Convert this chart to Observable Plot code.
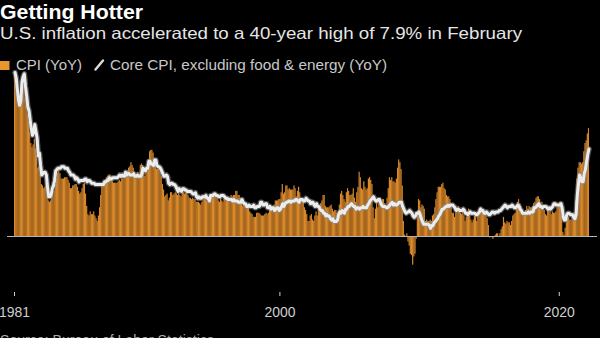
<!DOCTYPE html>
<html><head><meta charset="utf-8">
<script src="https://cdn.jsdelivr.net/npm/d3@7"></script>
<script src="https://cdn.jsdelivr.net/npm/@observablehq/plot@0.6"></script>
<style>
body{margin:0;background:#000;}
#wrap{position:relative;width:600px;height:338px;overflow:hidden;background:#000;font-family:"Liberation Sans",Arial,sans-serif;}
#chart{position:absolute;left:0;top:60px;}
#head{position:absolute;left:0;top:0;pointer-events:none;}
</style></head><body>
<div id="wrap">
 <div id="chart"></div>
 <svg id="head" width="600" height="338" font-family="'Liberation Sans',Arial,sans-serif">
  <text x="0" y="18.5" font-size="20" font-weight="bold" fill="#fff" textLength="143" lengthAdjust="spacingAndGlyphs">Getting Hotter</text>
  <text x="0" y="38.5" font-size="16.5" fill="#e6e6e6" textLength="522" lengthAdjust="spacingAndGlyphs">U.S. inflation accelerated to a 40-year high of 7.9% in February</text>
  <rect x="0" y="61" width="9.5" height="9" fill="#e8962e"/>
  <text x="16" y="70.3" font-size="14.5" fill="#c8c8c8" textLength="66" lengthAdjust="spacingAndGlyphs">CPI (YoY)</text>
  <line x1="95.5" y1="69.5" x2="103" y2="60.5" stroke="#ddd" stroke-width="2.4" stroke-linecap="round"/>
  <text x="110" y="70.3" font-size="14.5" fill="#c8c8c8" textLength="277" lengthAdjust="spacingAndGlyphs">Core CPI, excluding food &amp; energy (YoY)</text>
  <text x="0" y="345" font-size="14" fill="#aaa" textLength="214" lengthAdjust="spacingAndGlyphs">Source: Bureau of Labor Statistics</text>
 </svg>
</div>
<script>
// Monthly year-over-year % changes, Jan 1981 – Feb 2022
const cpi = [
 11.8,11.4,10.5,10.0,9.8,9.6,10.8,10.8,11.0,10.1,9.6,8.9,
 8.4,7.6,6.8,6.5,6.7,7.1,6.4,5.9,5.0,5.1,4.6,3.8,
 3.7,3.5,3.6,3.9,3.5,2.6,2.5,2.6,2.9,2.9,3.3,3.8,
 4.2,4.6,4.8,4.6,4.2,4.2,4.2,4.3,4.3,4.3,4.1,3.9,
 3.5,3.5,3.7,3.7,3.8,3.8,3.6,3.3,3.1,3.2,3.5,3.8,
 3.9,3.1,2.2,1.6,1.5,1.8,1.6,1.6,1.8,1.5,1.3,1.1,
 1.5,2.1,3.0,3.8,3.9,3.7,3.9,4.3,4.4,4.5,4.5,4.4,
 4.0,3.9,3.9,3.9,3.9,4.0,4.1,4.0,4.2,4.2,4.2,4.4,
 4.7,4.8,5.0,5.1,5.4,5.2,5.0,4.7,4.3,4.5,4.7,4.6,
 5.2,5.3,5.2,4.7,4.4,4.7,4.8,5.6,6.2,6.3,6.3,6.1,
 5.7,5.3,4.9,4.9,5.0,4.7,4.4,3.8,3.4,2.9,3.0,3.1,
 2.6,2.8,3.2,3.2,3.0,3.1,3.2,3.1,3.0,3.2,3.0,2.9,
 3.3,3.2,3.1,3.2,3.2,3.0,2.8,2.8,2.7,2.8,2.7,2.7,
 2.5,2.5,2.5,2.4,2.3,2.5,2.8,2.9,3.0,2.6,2.7,2.7,
 2.8,2.9,2.9,3.1,3.2,3.0,2.8,2.6,2.5,2.8,2.6,2.5,
 2.7,2.7,2.8,2.9,2.9,2.8,3.0,2.9,3.0,3.0,3.3,3.3,
 3.0,3.0,2.8,2.5,2.2,2.3,2.2,2.2,2.2,2.1,1.8,1.7,
 1.6,1.4,1.4,1.4,1.7,1.7,1.7,1.6,1.5,1.5,1.5,1.6,
 1.7,1.6,1.7,2.3,2.1,2.0,2.1,2.3,2.6,2.6,2.6,2.7,
 2.7,3.2,3.8,3.1,3.2,3.7,3.7,3.4,3.5,3.4,3.4,3.4,
 3.7,3.5,2.9,3.3,3.6,3.2,2.7,2.7,2.6,2.1,1.9,1.6,
 1.1,1.1,1.5,1.6,1.2,1.1,1.5,1.8,1.5,2.0,2.2,2.4,
 2.6,3.0,3.0,2.2,2.1,2.1,2.1,2.2,2.3,2.0,1.8,1.9,
 1.9,1.7,1.7,2.3,3.1,3.3,3.0,2.7,2.5,3.2,3.5,3.3,
 3.0,3.0,3.1,3.5,2.8,2.5,3.2,3.6,4.7,4.3,3.5,3.4,
 4.0,3.6,3.4,3.5,4.2,4.3,4.1,3.8,2.1,1.3,2.0,2.5,
 2.1,2.4,2.8,2.6,2.7,2.7,2.4,2.0,2.8,3.5,4.3,4.1,
 4.3,4.0,4.0,3.9,4.2,5.0,5.6,5.4,4.9,3.7,1.1,0.1,
 0.0,0.2,-0.4,-0.7,-1.3,-1.4,-2.1,-1.5,-1.3,-0.2,1.8,2.7,
 2.6,2.1,2.3,2.2,2.0,1.1,1.2,1.1,1.1,1.2,1.1,1.5,
 1.6,2.1,2.7,3.2,3.6,3.6,3.6,3.8,3.9,3.5,3.4,3.0,
 2.9,2.9,2.7,2.3,1.7,1.7,1.4,1.7,2.0,2.2,1.8,1.7,
 1.6,2.0,1.5,1.1,1.4,1.8,2.0,1.5,1.2,1.0,1.2,1.5,
 1.6,1.1,1.5,2.0,2.1,2.1,2.0,1.7,1.7,1.7,1.3,0.8,
 -0.1,0.0,-0.1,-0.2,0.0,0.1,0.2,0.2,0.0,0.2,0.5,0.7,
 1.4,1.0,0.9,1.1,1.0,1.0,0.8,1.1,1.5,1.6,1.7,2.1,
 2.5,2.7,2.4,2.2,1.9,1.6,1.7,1.9,2.2,2.0,2.2,2.1,
 2.1,2.2,2.4,2.5,2.8,2.9,2.9,2.7,2.3,2.5,2.2,1.9,
 1.6,1.5,1.9,2.0,1.8,1.6,1.8,1.7,1.7,1.8,2.1,2.3,
 2.5,2.3,1.5,0.3,0.1,0.6,1.0,1.3,1.4,1.2,1.2,1.4,
 1.4,1.7,2.6,4.2,5.0,5.4,5.4,5.3,5.4,6.2,6.8,7.0,
 7.5,7.9
];
const core = [
 12.0,11.6,10.8,10.0,9.6,9.9,11.3,11.7,11.9,11.0,10.3,9.5,
 9.2,8.5,7.9,7.4,7.6,8.2,7.7,7.2,5.9,6.1,5.2,4.5,
 4.6,4.7,4.7,4.5,3.6,2.9,2.9,3.0,3.5,3.7,4.1,4.8,
 4.9,5.0,5.0,5.0,5.1,5.1,5.1,5.0,5.0,5.0,4.8,4.7,
 4.5,4.5,4.5,4.4,4.2,4.3,4.2,4.0,4.1,4.1,4.1,4.1,
 4.2,4.2,4.0,4.1,4.1,4.0,3.9,3.9,3.9,3.8,3.8,3.8,
 3.8,3.8,3.8,3.8,3.8,4.0,4.0,4.1,4.1,4.3,4.2,4.2,
 4.3,4.3,4.3,4.3,4.3,4.4,4.5,4.4,4.5,4.4,4.4,4.7,
 4.5,4.6,4.6,4.5,4.5,4.5,4.6,4.4,4.4,4.5,4.4,4.4,
 4.4,4.6,5.0,4.9,4.8,5.0,5.0,5.5,5.5,5.3,5.3,5.2,
 5.6,5.6,5.2,5.1,5.1,5.0,4.8,4.6,4.4,4.4,4.5,4.4,
 3.9,3.8,3.9,3.9,3.8,3.8,3.7,3.5,3.3,3.5,3.4,3.3,
 3.5,3.5,3.4,3.4,3.3,3.3,3.3,3.3,3.2,3.1,3.1,3.2,
 2.9,2.8,2.9,2.8,2.8,2.9,2.9,2.9,3.0,2.8,2.8,2.6,
 3.0,3.0,3.0,3.1,3.1,3.0,3.0,2.9,2.9,3.0,3.0,3.0,
 2.9,2.8,2.8,2.7,2.7,2.7,2.7,2.6,2.7,2.6,2.6,2.6,
 2.5,2.5,2.5,2.7,2.5,2.4,2.4,2.2,2.2,2.3,2.2,2.2,
 2.2,2.3,2.1,2.1,2.2,2.2,2.2,2.5,2.5,2.3,2.3,2.4,
 2.4,2.1,2.1,2.2,2.0,2.1,2.1,1.9,2.0,2.1,2.1,1.9,
 2.0,2.2,2.4,2.2,2.4,2.5,2.5,2.6,2.6,2.5,2.6,2.6,
 2.6,2.7,2.7,2.6,2.5,2.7,2.7,2.7,2.6,2.6,2.8,2.7,
 2.6,2.6,2.4,2.5,2.5,2.3,2.2,2.4,2.2,2.2,2.0,1.9,
 1.9,1.7,1.7,1.5,1.6,1.5,1.5,1.3,1.2,1.3,1.1,1.1,
 1.1,1.2,1.6,1.8,1.7,1.9,1.8,1.7,2.0,2.0,2.2,2.2,
 2.3,2.4,2.3,2.2,2.2,2.0,2.1,2.1,2.0,2.1,2.1,2.2,
 2.1,2.1,2.1,2.3,2.4,2.6,2.7,2.8,2.9,2.7,2.6,2.6,
 2.7,2.7,2.5,2.3,2.2,2.2,2.2,2.1,2.1,2.2,2.3,2.4,
 2.5,2.3,2.4,2.3,2.3,2.4,2.5,2.5,2.5,2.2,2.0,1.8,
 1.7,1.8,1.8,1.9,1.8,1.7,1.5,1.4,1.5,1.7,1.7,1.8,
 1.6,1.3,1.1,0.9,0.9,0.9,0.9,0.9,0.8,0.6,0.8,0.8,
 1.0,1.1,1.2,1.3,1.5,1.6,1.8,2.0,2.0,2.1,2.2,2.2,
 2.3,2.2,2.3,2.3,2.3,2.2,2.1,1.9,2.0,2.0,1.9,1.9,
 1.9,2.0,1.9,1.7,1.7,1.6,1.7,1.8,1.7,1.7,1.7,1.7,
 1.6,1.6,1.7,1.8,2.0,1.9,1.9,1.7,1.7,1.8,1.7,1.6,
 1.6,1.7,1.8,1.8,1.7,1.8,1.8,1.8,1.9,1.9,2.0,2.1,
 2.2,2.3,2.2,2.1,2.2,2.2,2.2,2.3,2.2,2.1,2.1,2.2,
 2.3,2.2,2.0,1.9,1.7,1.7,1.7,1.7,1.7,1.8,1.7,1.8,
 1.8,1.8,2.1,2.1,2.2,2.3,2.4,2.2,2.2,2.1,2.2,2.2,
 2.2,2.1,2.0,2.1,2.0,2.1,2.2,2.4,2.4,2.3,2.3,2.3,
 2.3,2.4,2.1,1.4,1.2,1.2,1.6,1.7,1.7,1.6,1.6,1.6,
 1.4,1.3,1.6,3.0,3.8,4.5,4.3,4.0,4.0,4.6,4.9,5.5,
 6.0,6.4
];
const firstYear = 1981;
const tickYears = [1981, 2000, 2020];

const rows = cpi.map((v, i) => ({
  start: new Date(Date.UTC(firstYear, i, 1)),
  end: new Date(Date.UTC(firstYear, i + 1, 1)),
  mid: new Date(Date.UTC(firstYear, i, 15)),
  cpi: v,
  core: core[i]
}));
const ticks = tickYears.map(y => new Date(Date.UTC(y, 0, 1)));

const zeroY = 176, pxPerPct = 13.67;
const chart = Plot.plot({
  width: 600, height: 278,
  marginLeft: 7, marginRight: 3, marginTop: 0, marginBottom: 46,
  style: {background: "transparent", color: "#cfcfcf", fontSize: "15.5px", fontFamily: "'Liberation Sans',Arial,sans-serif"},
  x: {type: "utc", domain: [rows[0].start, rows[rows.length - 1].end], range: [14, 589]},
  y: {domain: [-2.5, 12.5], range: [zeroY + 2.5 * pxPerPct, zeroY - 12.5 * pxPerPct], axis: null},
  marks: [
    Plot.rectY(rows, {x1: "start", x2: "end", y: "cpi", fill: "#da892b"}),
    Plot.ruleY([0], {stroke: "#b4b4b4", strokeWidth: 1}),
    Plot.lineY(rows, {x: "mid", y: "core", stroke: "#8a8a8a", strokeWidth: 5.5, strokeOpacity: 0.6}),
    Plot.lineY(rows, {x: "mid", y: "core", stroke: "#ececec", strokeWidth: 3}),
    Plot.axisX(ticks, {anchor: "bottom", tickSize: 4, tickPadding: 9, tickFormat: d => String(d.getUTCFullYear()), label: null})
  ]
});
// condensed tick labels as in the reference
chart.querySelectorAll("g[aria-label='x-axis tick label'] text").forEach(t => {
  t.setAttribute("textLength", 31);
  t.setAttribute("lengthAdjust", "spacingAndGlyphs");
});
document.getElementById("chart").appendChild(chart);
</script>
</body></html>
